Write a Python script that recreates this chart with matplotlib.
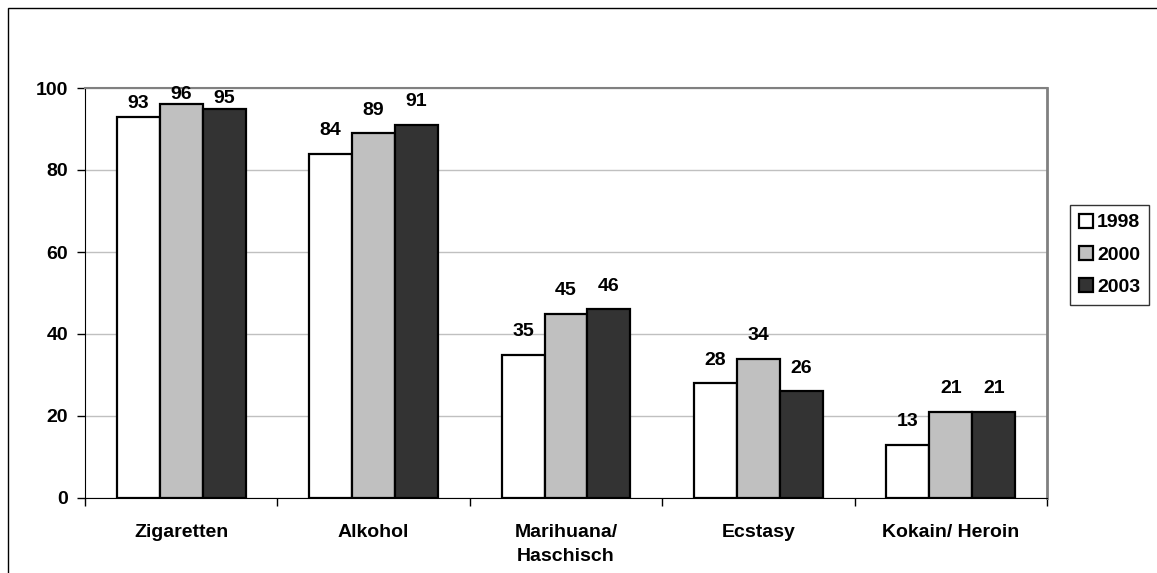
import numpy as np
import matplotlib.pyplot as plt
from matplotlib.patches import Rectangle

plt.rcParams['font.family'] = ['Liberation Sans', 'DejaVu Sans']
plt.rcParams['font.weight'] = 'bold'

categories = ['Zigaretten', 'Alkohol', 'Marihuana/\nHaschisch', 'Ecstasy', 'Kokain/ Heroin']
years = ['1998', '2000', '2003']
v1998 = [93, 84, 35, 28, 13]
v2000 = [96, 89, 45, 34, 21]
v2003 = [95, 91, 46, 26, 21]
colors = ['#ffffff', '#c0c0c0', '#333333']

fig = plt.figure(figsize=(11.57, 5.73), dpi=100)
ax = fig.add_axes([85/1157, 1 - 498/573, 962/1157, 410/573])

# outer chart border (right side runs off the picture)
fig.patches.append(Rectangle((8/1157, -0.01), 1.0, 1.01 - 8/573,
                             transform=fig.transFigure, fill=False,
                             edgecolor='black', linewidth=1.0))

ymax = 100
x = np.arange(len(categories))
w = 0.223
for i, (vals, yr) in enumerate(zip([v1998, v2000, v2003], years)):
    pos = x + (i - 1) * w
    ax.bar(pos, vals, w, color=colors[i], edgecolor='black',
           linewidth=1.6, label=yr, zorder=3)
    for px, v in zip(pos, vals):
        # label centre ~23px above the bar; pulled down when it would leave the plot
        cy = v + 5.6
        if cy + 2.4 > ymax:
            cy = max(ymax - 3.7, v + 2.4)
        ax.text(px, cy, str(v), ha='center', va='center', fontsize=14,
                fontweight='bold', zorder=4)

ax.set_xlim(-0.5, len(categories) - 0.5)
ax.set_ylim(0, ymax)
ax.set_yticks([0, 20, 40, 60, 80, 100])
ax.yaxis.grid(True, color='#c0c0c0', linewidth=1.0, zorder=0)
ax.set_xticks(x)
ax.set_xticklabels(categories, fontsize=14, fontweight='bold', linespacing=1.5)
ax.set_xticks(np.arange(-0.5, len(categories)), minor=True)
ax.tick_params(axis='x', which='major', length=0, pad=19)
ax.tick_params(axis='x', which='minor', length=6, width=1, direction='out')
ax.tick_params(axis='y', length=6, width=1, direction='out', labelsize=14, pad=6)
for lab in ax.get_yticklabels():
    lab.set_fontweight('bold')

ax.spines['left'].set_color('black')
ax.spines['bottom'].set_color('black')
ax.spines['top'].set_color('#808080')
ax.spines['right'].set_color('#808080')
ax.spines['right'].set_linewidth(2)
ax.spines['top'].set_linewidth(1.5)

leg = ax.legend(loc='center left', bbox_to_anchor=(1.024, 0.593), frameon=True,
                fancybox=False, edgecolor='black', fontsize=14,
                handlelength=0.72, handleheight=0.72, handletextpad=0.22,
                borderpad=0.45, labelspacing=0.75, borderaxespad=0)
leg.get_frame().set_linewidth(1.0)
for t in leg.get_texts():
    t.set_fontweight('bold')

fig.savefig('out.png', dpi=100)
